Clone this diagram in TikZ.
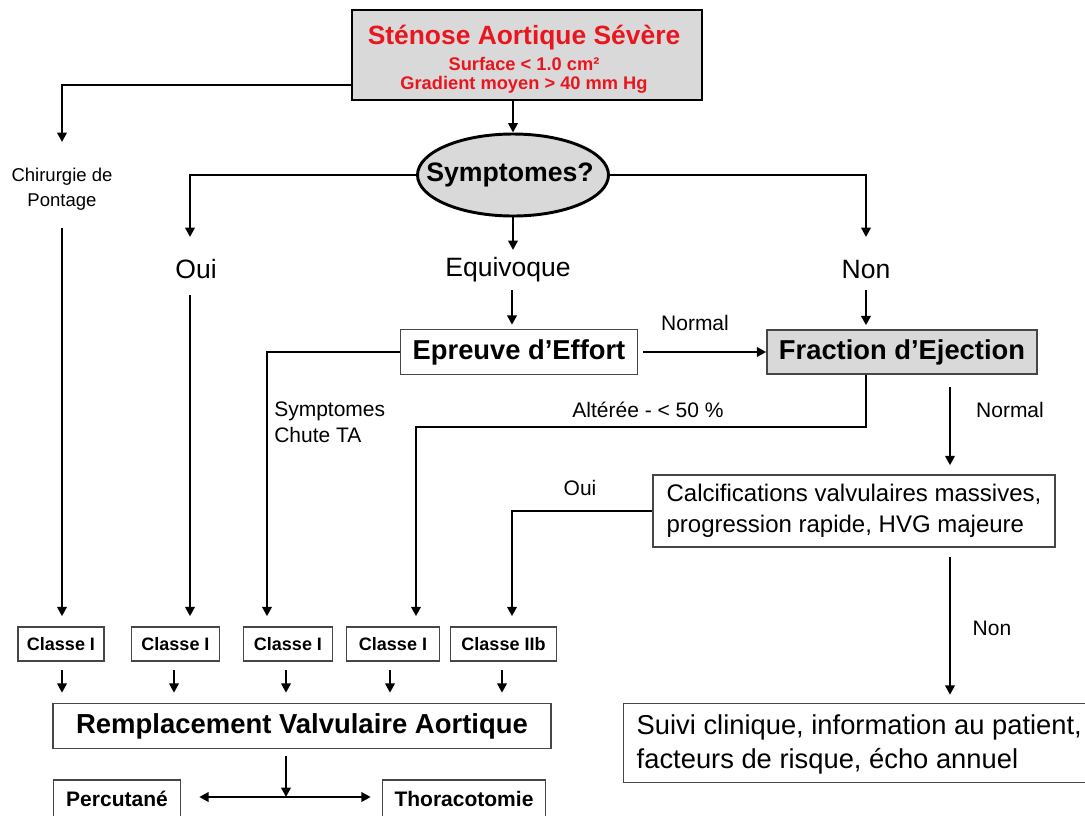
\documentclass[tikz,border=0pt]{standalone}
\usepackage{fontspec}
\setmainfont{Liberation Sans}
\usetikzlibrary{arrows.meta,shapes.geometric}
\definecolor{boxgray}{RGB}{217,217,217}
\definecolor{redtxt}{RGB}{232,22,30}
\definecolor{edgegray}{RGB}{70,70,70}
\begin{document}
\begin{tikzpicture}[x=0.75pt,y=-0.75pt,
  wh/.style 2 args={minimum width=#1*0.75pt,minimum height=#2*0.75pt},
  conn/.style={line width=2pt,line join=miter,-{Triangle[length=7pt,width=7pt]}},
  thinbox/.style={draw=edgegray,line width=1.1pt,fill=white,inner sep=0pt},
  graybox/.style={draw=edgegray,line width=1.1pt,fill=boxgray,inner sep=0pt},
  smalltxt/.style={font=\fontsize{15.75pt}{19.5pt}\selectfont,inner sep=0pt},
  bigtxt/.style={font=\fontsize{19.9pt}{23pt}\selectfont,inner sep=0pt},
  classebox/.style={thinbox,font=\fontsize{13.5pt}{16pt}\selectfont\bfseries,minimum height=34*0.75pt},
  gapped/.style={shorten >=#1*0.75pt},
]
\useasboundingbox (0,0) rectangle (1085,815);
\fill[white] (0,0) rectangle (1085,815);

% top box
\node[draw=black,line width=2.2pt,fill=boxgray,wh={350}{90},inner sep=0pt] (top) at (527,55) {};
\node[text=redtxt,font=\fontsize{19.8pt}{23pt}\selectfont\bfseries,inner sep=0pt] (t1) at (524,38) {Sténose Aortique Sévère};
\node[text=redtxt,font=\fontsize{13.7pt}{16pt}\selectfont\bfseries,inner sep=0pt] (t2) at (524,64) {Surface < 1.0 cm²};
\node[text=redtxt,font=\fontsize{13.7pt}{16pt}\selectfont\bfseries,inner sep=0pt] (t3) at (524,85) {Gradient moyen > 40 mm Hg};

% ellipse
\node[ellipse,draw=black,line width=2.2pt,fill=boxgray,wh={191}{82},inner sep=0pt] (sym) at (513,175) {};
\node[font=\fontsize{20pt}{24pt}\selectfont\bfseries,inner sep=0pt] (symtxt) at (510,175) {Symptomes?};

% branch labels
\node[bigtxt] (oui) at (196,269) {Oui};
\node[bigtxt] (equi) at (508,270) {Equivoque};
\node[bigtxt] (non) at (866,269) {Non};
\node[font=\fontsize{13.9pt}{18.75pt}\selectfont,inner sep=0pt,align=center] (chir) at (62,189) {Chirurgie de\\Pontage};

% middle boxes
\node[thinbox,wh={237}{45},font=\fontsize{20.5pt}{24pt}\selectfont\bfseries] (epr) at (519,352) {Epreuve d’Effort};
\node[graybox,wh={270}{44},font=\fontsize{20.5pt}{24pt}\selectfont\bfseries] (frac) at (902,352) {Fraction d’Ejection};
\node[thinbox,wh={402}{72},align=left,font=\fontsize{18pt}{23.25pt}\selectfont] (calc) at (854,511) {Calcifications valvulaires massives,\\progression rapide, HVG majeure};
\node[thinbox,anchor=west,minimum height=79*0.75pt,inner xsep=13*0.75pt,align=left,
      font=\fontsize{20.5pt}{25.5pt}\selectfont] (suivi) at (623,743) {\rule{0pt}{17pt}Suivi clinique, information au patient,\\facteurs de risque, écho annuel};

% small labels
\node[smalltxt] (lnorm1) at (695,323) {Normal};
\node[smalltxt] (lalt) at (648,410) {Altérée - < 50 \%};
\node[smalltxt] (lnorm2) at (1010,410) {Normal};
\node[smalltxt,align=left,anchor=north west] (lsym) at (274,402) {Symptomes\\Chute TA};
\node[smalltxt] (loui) at (580,488) {Oui};
\node[smalltxt] (lnon) at (992,628) {Non};

% classe boxes
\node[classebox,minimum width=86*0.75pt] (c1) at (61,644) {Classe I};
\node[classebox,minimum width=88*0.75pt] (c2) at (175.5,644) {Classe I};
\node[classebox,minimum width=89*0.75pt] (c3) at (288,644) {Classe I};
\node[classebox,minimum width=93*0.75pt] (c4) at (393,644) {Classe I};
\node[classebox,minimum width=106*0.75pt] (c5) at (503.5,644) {Classe IIb};

% bottom
\node[thinbox,wh={498}{45},font=\fontsize{20.6pt}{24pt}\selectfont\bfseries] (rva) at (302,726) {Remplacement Valvulaire Aortique};
\node[thinbox,wh={127}{38},font=\fontsize{15.75pt}{19pt}\selectfont\bfseries] (perc) at (117,799) {Percutané};
\node[thinbox,wh={163}{38},font=\fontsize{15.75pt}{19pt}\selectfont\bfseries] (thor) at (464,799) {Thoracotomie};

% coordinates for bends and free ends
\coordinate (k1) at (62,85);
\coordinate (e1) at (62,142);
\coordinate (s1) at (62,228);
\coordinate (k2) at (190,175);
\coordinate (e2) at (190,237);
\coordinate (s2) at (190,295);
\coordinate (e3) at (513,250);
\coordinate (s3) at (512,290);
\coordinate (k4) at (866,175);
\coordinate (e4) at (866,237);
\coordinate (s4) at (866,290);
\coordinate (k5) at (267,352);
\coordinate (k6a) at (866,427);
\coordinate (k6b) at (416,427);
\coordinate (s7) at (950,387);
\coordinate (k8) at (512,511);
\coordinate (s9) at (950,557);
\coordinate (k10) at (286,797);

% connectors
\draw[conn] (top.south -| sym.north) -- (sym.north);
\draw[conn] (top.west |- k1) -- (k1) -- (e1);
\draw[conn,gapped=10] (s1) -- (s1 |- c1.north);
\draw[conn] (sym.west) -- (k2) -- (e2);
\draw[conn] (sym.south) -- (e3);
\draw[conn] (sym.east) -- (k4) -- (e4);
\draw[conn,gapped=10] (s2) -- (s2 |- c2.north);
\draw[conn,gapped=4] (s3) -- (s3 |- epr.north);
\draw[conn,gapped=4] (s4) -- (s4 |- frac.north);
\draw[conn,gapped=10] (epr.west) -- (k5) -- (k5 |- c3.north);
\draw[conn,shorten <=5*0.75pt] (epr.east) -- (frac.west);
\draw[conn,gapped=10] (frac.south -| k6a) -- (k6a) -- (k6b) -- (k6b |- c4.north);
\draw[conn,gapped=9] (s7) -- (s7 |- calc.north);
\draw[conn,gapped=10] (calc.west) -- (k8) -- (k8 |- c5.north);
\draw[conn,gapped=8] (s9) -- (s9 |- suivi.north);
\foreach \c/\x in {c1/62,c2/174,c3/286,c4/390,c5/502}{
  \coordinate (tmp) at (\x,0);
  \draw[conn,shorten <=8*0.75pt,gapped=10] (\c.south -| tmp) -- (tmp |- rva.north);
}
\draw[conn,shorten <=7*0.75pt] (rva.south -| k10) -- (k10);
\draw[line width=2pt,{Triangle[length=7pt,width=7pt]}-{Triangle[length=7pt,width=7pt]},
      shorten <=18*0.75pt,shorten >=11*0.75pt] (perc.east |- k10) -- (thor.west |- k10);
\end{tikzpicture}
\end{document}
